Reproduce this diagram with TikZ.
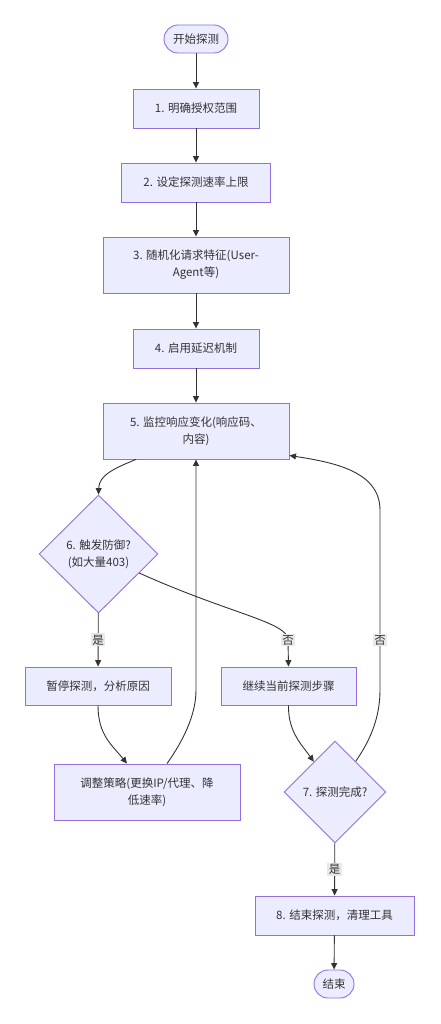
\documentclass[tikz,border=0pt]{standalone}
\usepackage{fontspec}
\setmainfont{Noto Sans CJK SC}
\usetikzlibrary{arrows.meta,shapes.geometric}
\definecolor{nodefill}{HTML}{ECECFF}
\definecolor{nodeline}{HTML}{9370DB}
\definecolor{edgeline}{HTML}{333333}
\definecolor{labelbg}{HTML}{E8E8E8}
\definecolor{txt}{HTML}{333333}
\begin{document}
\begin{tikzpicture}[x=1pt,y=-1pt,
  box/.style={rectangle, draw=nodeline, fill=nodefill, line width=0.9pt, text=txt,
    font=\fontsize{11.5}{17}\selectfont, align=center, inner sep=0pt},
  term/.style={box, rounded corners=14pt},
  dec/.style={box, diamond},
  edge/.style={draw=edgeline, line width=0.9pt, -{Triangle[length=6.5pt,width=6pt]}},
  lbl/.style={fill=labelbg, text=txt, font=\fontsize{11.5}{14}\selectfont, inner sep=1.5pt}]
\useasboundingbox[fill=white] (0,0) rectangle (440,1024);

\node[term, minimum width=64pt, minimum height=28pt] (start) at (196,39) {开始探测};
\node[box, minimum width=126pt, minimum height=39pt] (s1) at (196,108.5) {1. 明确授权范围};
\node[box, minimum width=149pt, minimum height=39pt] (s2) at (196,182.5) {2. 设定探测速率上限};
\node[box, minimum width=186pt, minimum height=56pt] (s3) at (196,265) {3. 随机化请求特征(User-\\Agent等)};
\node[box, minimum width=126pt, minimum height=39pt] (s4) at (196,348.5) {4. 启用延迟机制};
\node[box, minimum width=186pt, minimum height=56pt] (s5) at (196,431) {5. 监控响应变化(响应码、\\内容)};
\node[dec, minimum width=119pt, minimum height=118pt] (d6) at (98.5,554) {6. 触发防御?\\(如大量403)};
\node[box, minimum width=146pt, minimum height=38pt] (pause) at (98,686) {暂停探测，分析原因};
\node[box, minimum width=135pt, minimum height=38pt] (cont) at (288.5,686) {继续当前探测步骤};
\node[box, minimum width=186pt, minimum height=56pt] (adj) at (147,792) {调整策略(更换IP/代理、降\\低速率)};
\node[dec, minimum width=102pt, minimum height=102pt] (d7) at (335,792) {7. 探测完成?};
\node[box, minimum width=159pt, minimum height=39pt] (s8) at (334.5,915.5) {8. 结束探测，清理工具};
\node[term, minimum width=40pt, minimum height=28pt] (fin) at (334,984) {结束};

\draw[edge] (start) -- (s1);
\draw[edge] (s1) -- (s2);
\draw[edge] (s2) -- (s3);
\draw[edge] (s3) -- (s4);
\draw[edge] (s4) -- (s5);
\draw[edge] ([xshift=-60pt]s5.south) .. controls (115,468) and (99,475) .. (d6.north);
\draw[edge] (d6) -- node[lbl]{是} (pause);
\draw[edge] (d6.-25) .. controls (230,614) and (288,622) .. (288,640) node[lbl]{否} -- (cont.north);
\draw[edge] (pause.south) .. controls (98,735) and (112,745) .. ([xshift=-20pt]adj.north);
\draw[edge] ([xshift=20pt]adj.north) .. controls (183,741) and (196,715) .. (196,690) -- (s5.south);
\draw[edge] (cont.south) .. controls (288,732) and (302,745) .. (d7.125);
\draw[edge] (d7.56) .. controls (372,738) and (380,715) .. (380,690) -- (380,640) node[lbl]{否} -- (380,510) .. controls (380,470) and (330,462) .. ([yshift=4pt]s5.south east);
\draw[edge] (d7) -- node[lbl]{是} (s8);
\draw[edge] (s8) -- (fin);
\end{tikzpicture}
\end{document}
